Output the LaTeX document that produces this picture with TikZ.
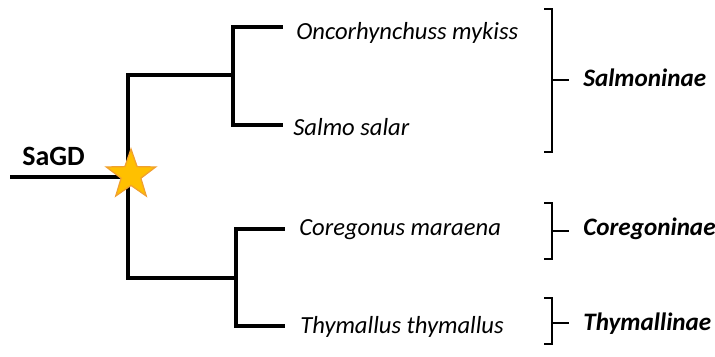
\documentclass[tikz,border=0pt]{standalone}
\usepackage{fontspec}
\setmainfont{Carlito}
\usepackage{tikz}
\usetikzlibrary{positioning,shapes.geometric}
\definecolor{stargold}{HTML}{FFC000}
\definecolor{starrim}{HTML}{F0A030}

\begin{document}
\begin{tikzpicture}[x=0.02cm,y=-0.02cm,
  branch/.style={line width=2.3pt,line join=miter},
  brace/.style={line width=0.9pt},
  leaf/.style={anchor=base west,inner sep=0pt,font=\fontsize{14}{16}\selectfont\itshape},
  clade/.style={anchor=base west,inner sep=0pt,font=\fontsize{14.3}{16}\selectfont\bfseries\itshape}]
\useasboundingbox (0,0) rectangle (715,356);
% tree
\coordinate (r) at (10,177);
\coordinate (k) at (128,177);
\coordinate (a) at (233,75);
\coordinate (b) at (236,278);
\coordinate (t1) at (283,27);
\coordinate (t2) at (283,125);
\coordinate (t3) at (285,229);
\coordinate (t4) at (285,326);
\draw[branch] (r) -- (k);
\draw[branch] (k) |- (a);
\draw[branch] (k) |- (b);
\draw[branch] (a) |- (t1);
\draw[branch] (a) |- (t2);
\draw[branch] (b) |- (t3);
\draw[branch] (b) |- (t4);
\node[star,star points=5,star point ratio=2.5,minimum size=1.04cm,inner sep=0pt,
  fill=stargold,draw=starrim,line width=0.7pt] (gd) at (131,175) {};
\node[anchor=base west,inner sep=0pt,font=\fontsize{15.9}{18}\selectfont\bfseries] (sagd) at (22,165) {SaGD};
% species
\node[leaf] (om) at (296,39) {Oncorhynchuss mykiss};
\node[leaf] (ss) at (293,135) {Salmo salar};
\node[leaf] (cm) at (299,235) {Coregonus maraena};
\node[leaf] (tt) at (300,333) {Thymallus thymallus};
% subfamilies
\node[clade] (salm) at (583,86) {Salmoninae};
\node[clade] (core) at (583,235) {Coregoninae};
\node[clade] (thym) at (583,330) {Thymallinae};
\draw[brace] (544,9) -- (552,9) -- (552,152) -- (544,152);
\draw[brace] (552,80) -- (569,80);
\draw[brace] (544,203) -- (552,203) -- (552,259) -- (544,259);
\draw[brace] (552,231) -- (569,231);
\draw[brace] (544,298) -- (552,298) -- (552,344) -- (544,344);
\draw[brace] (552,323) -- (569,323);
\end{tikzpicture}
\end{document}
